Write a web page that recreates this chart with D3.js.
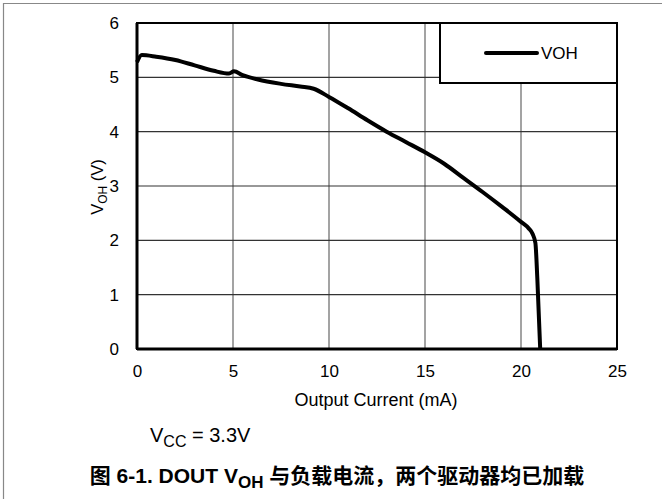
<!DOCTYPE html>
<html><head><meta charset="utf-8">
<script src="https://cdn.jsdelivr.net/npm/d3@7"></script>
<style>body{margin:0;background:#fff}svg{display:block}</style>
</head><body>
<script>
const current = [0,0.25,1,2,3,4,4.8,5.05,5.5,6.3,7.5,8.5,9.2,10,11,12,13,14,15,16,17,18,19,20,20.4,20.6,20.75,20.85,21.0];
const voh =     [5.28,5.41,5.38,5.32,5.22,5.12,5.07,5.11,5.04,4.96,4.88,4.83,4.79,4.64,4.43,4.21,4.00,3.81,3.62,3.41,3.15,2.89,2.62,2.34,2.22,2.12,1.95,1.30,0];
const xTicks = [0,5,10,15,20,25];
const yTicks = [0,1,2,3,4,5,6];
const seriesName = "VOH";

const W=662,H=499;
const svg=d3.select("body").append("svg").attr("width",W).attr("height",H);
const font="'Liberation Sans', Arial, sans-serif";
const cjk="'Liberation Sans', 'Noto Sans CJK SC', sans-serif";
const L=137,R=617,T=23,B=349;
const x=d3.scaleLinear().domain([0,25]).range([L,R]);
const y=d3.scaleLinear().domain([0,6]).range([B,T]);

// outer frame (top + left)
svg.append("line").attr("x1",3).attr("x2",W).attr("y1",3.5).attr("y2",3.5).attr("stroke","#888").attr("stroke-width",1.2);
svg.append("line").attr("x1",3.5).attr("x2",3.5).attr("y1",3).attr("y2",H).attr("stroke","#888").attr("stroke-width",1.2);

// grid
svg.append("g").selectAll("line").data(xTicks.slice(1,-1)).join("line")
  .attr("x1",d=>x(d)).attr("x2",d=>x(d)).attr("y1",T).attr("y2",B)
  .attr("stroke","#666").attr("stroke-width",1.2);
svg.append("g").selectAll("line").data(yTicks.slice(1,-1)).join("line")
  .attr("x1",L).attr("x2",R).attr("y1",d=>y(d)).attr("y2",d=>y(d))
  .attr("stroke","#333").attr("stroke-width",1.1);

// axes via d3
const xa=svg.append("g").attr("transform",`translate(0,${B})`)
  .call(d3.axisBottom(x).tickValues(xTicks).tickFormat(d3.format("d")).tickSize(0).tickPadding(16));
xa.select(".domain").remove();
xa.selectAll("text").attr("font-family",font).attr("font-size",17).attr("fill","#000");
const ya=svg.append("g").attr("transform",`translate(${L},0)`)
  .call(d3.axisLeft(y).tickValues(yTicks).tickFormat(d3.format("d")).tickSize(0).tickPadding(18));
ya.select(".domain").remove();
ya.selectAll("text").attr("font-family",font).attr("font-size",17).attr("fill","#000");

// plot border
svg.append("rect").attr("x",L).attr("y",T).attr("width",R-L).attr("height",B-T)
  .attr("fill","none").attr("stroke","#000").attr("stroke-width",2);
svg.append("line").attr("x1",L).attr("x2",R).attr("y1",B).attr("y2",B).attr("stroke","#000").attr("stroke-width",3);
svg.append("line").attr("x1",L).attr("x2",L).attr("y1",T).attr("y2",B).attr("stroke","#000").attr("stroke-width",3);

// legend
svg.append("rect").attr("x",440).attr("y",T).attr("width",R-440).attr("height",83-T)
  .attr("fill","#fff").attr("stroke","#000").attr("stroke-width",2);
svg.append("line").attr("x1",486).attr("x2",537).attr("y1",53).attr("y2",53)
  .attr("stroke","#000").attr("stroke-width",4).attr("stroke-linecap","round");
svg.append("text").attr("x",541).attr("y",59).attr("font-family",font).attr("font-size",17).text(seriesName);

// data line
const pts=current.map((c,i)=>[c,voh[i]]);
svg.append("path").datum(pts)
  .attr("d",d3.line().x(d=>x(d[0])).y(d=>y(d[1])).curve(d3.curveMonotoneX))
  .attr("fill","none").attr("stroke","#000").attr("stroke-width",4).attr("stroke-linejoin","round");

// axis titles
svg.append("text").attr("x",376).attr("y",406).attr("text-anchor","middle")
  .attr("font-family",font).attr("font-size",18).text("Output Current (mA)");
const yt=svg.append("text").attr("transform","translate(103,187) rotate(-90)").attr("text-anchor","middle")
  .attr("font-family",font).attr("font-size",16.5);
yt.append("tspan").text("V");
yt.append("tspan").attr("font-size",12).attr("dy",4).text("OH");
yt.append("tspan").attr("dy",-4).text(" (V)");

// Vcc note
const vt=svg.append("text").attr("x",150).attr("y",442).attr("font-family",font).attr("font-size",20);
vt.append("tspan").text("V");
vt.append("tspan").attr("font-size",16).attr("dy",5).text("CC");
vt.append("tspan").attr("dy",-5).text(" = 3.3V");

// caption
const ct=svg.append("text").attr("x",337).attr("y",483).attr("text-anchor","middle")
  .attr("font-family",cjk).attr("font-size",21).attr("font-weight","bold");
ct.append("tspan").text("图 6-1. DOUT V");
ct.append("tspan").attr("font-size",17).attr("dy",5).text("OH");
ct.append("tspan").attr("dy",-5).text(" 与负载电流，两个驱动器均已加载");
</script>
</body></html>
